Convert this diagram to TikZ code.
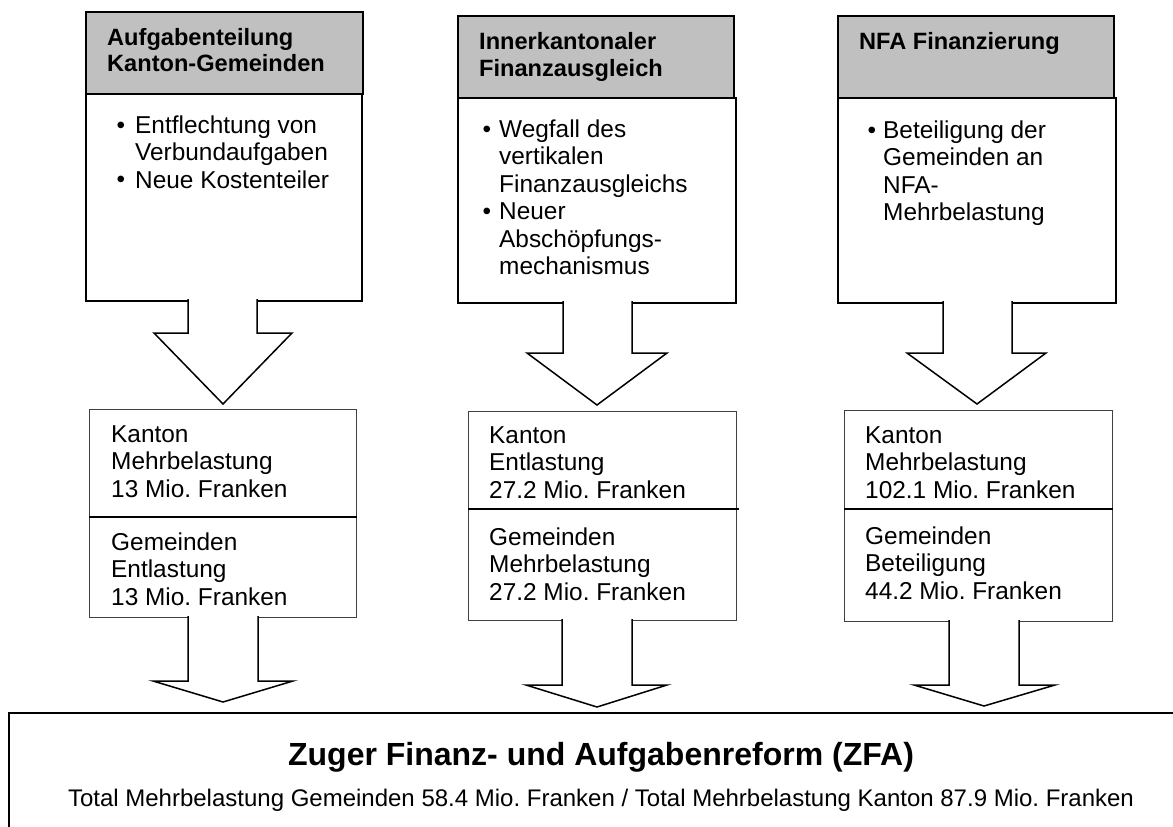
\documentclass[tikz,border=0pt]{standalone}
\usepackage{fontspec}
\setmainfont{Liberation Sans}
\frenchspacing
\definecolor{hdrgray}{RGB}{192,192,192}
\newcommand\txtlines[1]{\parbox[t]{420pt}{\raggedright\frenchspacing #1}}
\newcommand\blockarrow[8]{%
  \fill[white] (#1,#3-1.8) -- (#1,#4) -- (#5,#4) -- (#7,#8) -- (#6,#4) -- (#2,#4) -- (#2,#3-1.8) -- cycle;
  \draw[blk] (#1,#3-0.8) -- (#1,#4) -- (#5,#4) -- (#7,#8) -- (#6,#4) -- (#2,#4) -- (#2,#3-0.8);}
\tikzset{
  hdr/.style={draw=black, line width=1.6pt, fill=hdrgray, anchor=north west, inner sep=0pt},
  bodybox/.style={draw=black, line width=1.6pt, fill=white, anchor=north west, inner sep=0pt},
  resbox/.style={draw=black!75, line width=1.3pt, fill=white, anchor=north west, inner sep=0pt},
  divline/.style={draw=black, line width=1.3pt},
  blk/.style={draw=black, line width=1.5pt, line join=miter},
  hl/.style={anchor=base west, inner sep=0pt, font=\bfseries\fontsize{23.6}{27}\selectfont},
  ln/.style={anchor=base west, inner sep=0pt, font=\fontsize{24.4}{27.5}\selectfont},
  bul/.style={anchor=base, inner sep=0pt, font=\fontsize{24.4}{27.5}\selectfont},
  ttl/.style={anchor=base, inner sep=0pt, font=\bfseries\fontsize{32}{36}\selectfont},
}
\begin{document}
\begin{tikzpicture}[x=1pt,y=-1pt]
\useasboundingbox (0,0) rectangle (1173,827);
\clip (0,0) rectangle (1173,827);

% ---- column 1 ----
\node[hdr, minimum width=277pt, minimum height=82pt] (h1) at (85,11) {};
\node[bodybox, minimum width=276pt, minimum height=207pt] (b1) at (85,93) {};
\node[hl] (h1t) at (107,45) {\txtlines{Aufgabenteilung\\Kanton-Gemeinden}};
\node[bul] (b1a) at (121,133) {•};
\node[bul] (b1b) at (121,187.5) {•};
\node[ln] (b1t) at (135,133) {\txtlines{Entflechtung von\\Verbundaufgaben\\Neue Kostenteiler}};
\blockarrow{188}{257}{300}{333}{154}{292}{223}{404}
\node[resbox, minimum width=267pt, minimum height=208pt] (r1) at (89,409) {};
\draw[divline] (r1.west |- 0,517) -- (r1.east |- 0,517);
\node[ln] (r1a) at (111,442) {\txtlines{Kanton\\Mehrbelastung\\13 Mio. Franken}};
\node[ln] (r1b) at (111,550) {\txtlines{Gemeinden\\Entlastung\\13 Mio. Franken}};

% ---- column 2 ----
\node[hdr, minimum width=276pt, minimum height=82pt] (h2) at (457,15) {};
\node[bodybox, minimum width=278pt, minimum height=205pt] (b2) at (457,97) {};
\node[hl] (h2t) at (479,49) {\txtlines{Innerkantonaler\\Finanzausgleich}};
\node[bul] (b2a) at (487,137) {•};
\node[bul] (b2b) at (487,219.5) {•};
\node[ln] (b2t) at (499,137) {\txtlines{Wegfall des\\vertikalen\\Finanzausgleichs\\Neuer\\Abschöpfungs-\\mechanismus}};
\blockarrow{563}{632}{302}{353}{527}{667}{597}{405}
\node[resbox, minimum width=268pt, minimum height=209pt] (r2) at (468,411) {};
\draw[divline] (r2.west |- 0,509) -- ([xshift=2pt]r2.east |- 0,509);
\node[ln] (r2a) at (489,443) {\txtlines{Kanton\\Entlastung\\27.2 Mio. Franken}};
\node[ln] (r2b) at (489,545) {\txtlines{Gemeinden\\Mehrbelastung\\27.2 Mio. Franken}};

% ---- column 3 ----
\node[hdr, minimum width=276pt, minimum height=82pt] (h3) at (837,15) {};
\node[bodybox, minimum width=278pt, minimum height=205pt] (b3) at (837,97) {};
\node[hl] (h3t) at (859,49) {\txtlines{NFA Finanzierung}};
\node[bul] (b3a) at (872,138) {•};
\node[ln] (b3t) at (883,138) {\txtlines{Beteiligung der\\Gemeinden an\\NFA-\\Mehrbelastung}};
\blockarrow{943}{1012}{302}{353}{907}{1046}{977}{404}
\node[resbox, minimum width=268pt, minimum height=211pt] (r3) at (844,410) {};
\draw[divline] (r3.west |- 0,509) -- (r3.east |- 0,509);
\node[ln] (r3a) at (865,443) {\txtlines{Kanton\\Mehrbelastung\\102.1 Mio. Franken}};
\node[ln] (r3b) at (865,544) {\txtlines{Gemeinden\\Beteiligung\\44.2 Mio. Franken}};

% ---- lower arrows ----
\blockarrow{188}{258}{617}{681}{153}{293}{223}{702}
\blockarrow{562}{632}{620}{685}{526}{667}{597}{707}
\blockarrow{949}{1019}{621}{685}{914}{1055}{984}{706}

% ---- bottom box ----
\coordinate (zl) at (9,840);
\coordinate (ztl) at (9,713);
\coordinate (ztr) at (1180,713);
\draw[line width=1.6pt] (zl) -- (ztl) -- (ztr);
\node[ttl] (zfa) at (601,765) {Zuger Finanz- und Aufgabenreform (ZFA)};
\node[anchor=base, inner sep=0pt, font=\fontsize{24}{27.5}\selectfont] (tot) at (601,806) {Total Mehrbelastung Gemeinden 58.4 Mio. Franken / Total Mehrbelastung Kanton 87.9 Mio. Franken};
\end{tikzpicture}
\end{document}
